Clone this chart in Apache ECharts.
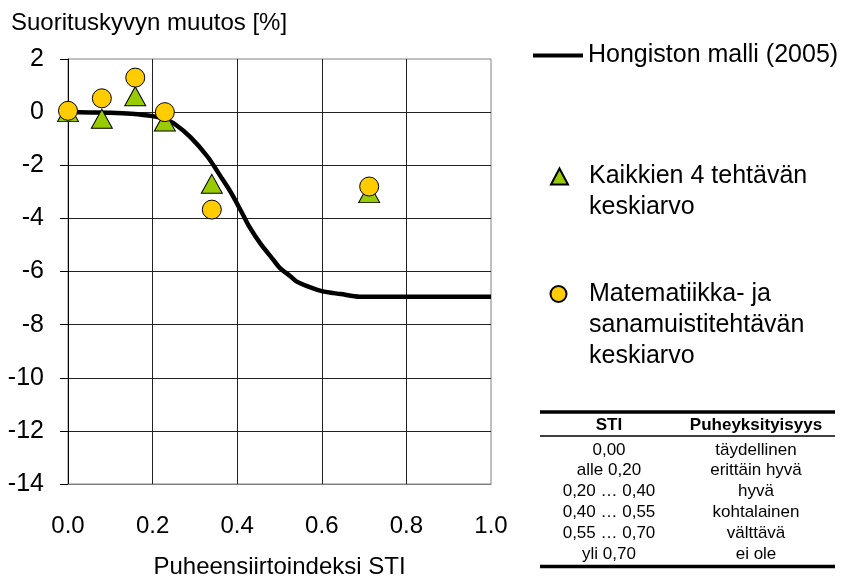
<!DOCTYPE html>
<html><head><meta charset="utf-8">
<script src="https://cdn.jsdelivr.net/npm/echarts@6/dist/echarts.min.js"></script>
<style>html,body{margin:0;padding:0;background:#fff}#c{width:851px;height:576px}</style>
</head><body><div id="c"></div>
<script>
// ---- data ----
const modelSTI = [0, 0.05, 0.1, 0.15, 0.2, 0.23, 0.25, 0.29, 0.33, 0.36, 0.385, 0.41, 0.43, 0.455, 0.485, 0.5, 0.525, 0.54, 0.565, 0.6, 0.645, 0.69, 0.8, 1.0];
const modelChange = [0, -0.01, -0.02, -0.06, -0.15, -0.27, -0.42, -0.95, -1.68, -2.4, -3.02, -3.75, -4.35, -4.95, -5.55, -5.85, -6.17, -6.37, -6.55, -6.74, -6.85, -6.95, -6.95, -6.95];
const measuredSTI = [0.0, 0.08, 0.159, 0.229, 0.34, 0.712];
const allTasksMean = [0.0, -0.25, 0.6, -0.35, -2.7, -3.05];
const mathWordMean = [0.05, 0.52, 1.3, 0.0, -3.67, -2.8];
const seriesNames = ['Hongiston malli (2005)', 'Kaikkien 4 tehtävän\nkeskiarvo', 'Matematiikka- ja\nsanamuistitehtävän\nkeskiarvo'];
const titleText = 'Suorituskyvyn muutos [%]';
const xAxisName = 'Puheensiirtoindeksi STI';
const tableHeader = ['STI', 'Puheyksityisyys'];
const tableSTI = ['0,00', 'alle 0,20', '0,20 … 0,40', '0,40 … 0,55', '0,55 … 0,70', 'yli 0,70'];
const tablePrivacy = ['täydellinen', 'erittäin hyvä', 'hyvä', 'kohtalainen', 'välttävä', 'ei ole'];

const FONT = "'Liberation Sans', Arial, sans-serif";
const chart = echarts.init(document.getElementById('c'), null, {renderer: 'canvas'});

function pairs(xs, ys) { return xs.map((x, i) => [x, ys[i]]); }

// table graphic
const tbl = [];
const c1 = 609, c2 = 756, tl = 540, tr = 835;
tbl.push({type: 'line', shape: {x1: tl, y1: 412, x2: tr, y2: 412}, style: {stroke: '#000', lineWidth: 3.5}});
tbl.push({type: 'line', shape: {x1: tl, y1: 436, x2: tr, y2: 436}, style: {stroke: '#000', lineWidth: 1.5}});
tbl.push({type: 'line', shape: {x1: tl, y1: 566.5, x2: tr, y2: 566.5}, style: {stroke: '#000', lineWidth: 3.5}});
tbl.push({type: 'text', x: c1, y: 425, style: {text: tableHeader[0], font: 'bold 17px ' + FONT, fill: '#000', align: 'center', verticalAlign: 'middle'}});
tbl.push({type: 'text', x: c2, y: 425, style: {text: tableHeader[1], font: 'bold 17px ' + FONT, fill: '#000', align: 'center', verticalAlign: 'middle'}});
tableSTI.forEach((t, i) => {
  const y = 450 + i * 20.8;
  tbl.push({type: 'text', x: c1, y: y, style: {text: t, font: '17px ' + FONT, fill: '#000', align: 'center', verticalAlign: 'middle'}});
  tbl.push({type: 'text', x: c2, y: y, style: {text: tablePrivacy[i], font: '17px ' + FONT, fill: '#000', align: 'center', verticalAlign: 'middle'}});
});

const LH = 31;
const legendText = {fontFamily: FONT, fontSize: 25, color: '#000', lineHeight: LH};
const option = {
  backgroundColor: '#fff',
  animation: false,
  textStyle: {fontFamily: FONT},
  title: {text: titleText, left: 6, top: 6, textStyle: {fontFamily: FONT, fontSize: 24, fontWeight: 'normal', color: '#000'}},
  grid: {left: 68, right: 360, top: 59, bottom: 92, containLabel: false, outerBoundsMode: 'none',
         show: true, borderColor: '#808080', borderWidth: 1, backgroundColor: 'transparent'},
  legend: [
    {data: [{name: seriesNames[0], icon: 'rect'}], left: 533, top: 40, padding: 0, itemWidth: 50, itemHeight: 4,
     textStyle: legendText, selectedMode: false},
    {data: [{name: seriesNames[1], icon: 'triangle'}], left: 550, top: 130, padding: 0, itemWidth: 17, itemHeight: 16, itemGap: 0,
     formatter: n => '\n' + n,
     textStyle: Object.assign({}, legendText, {padding: [0, 0, 0, 16]}), selectedMode: false},
    {data: [{name: seriesNames[2], icon: 'circle'}], left: 549.5, top: 216.5, padding: 0, itemWidth: 16, itemHeight: 16,
     formatter: n => '\n\n' + n,
     textStyle: Object.assign({}, legendText, {padding: [0, 0, 0, 17.5]}), selectedMode: false}
  ],
  xAxis: {
    type: 'value', min: 0, max: 1, interval: 0.2,
    name: xAxisName, nameLocation: 'middle', nameGap: 71,
    nameTextStyle: {fontFamily: FONT, fontSize: 24, color: '#000'},
    axisLine: {show: true, onZero: false, lineStyle: {color: '#808080', width: 1}},
    axisTick: {show: false},
    axisLabel: {margin: 30, fontFamily: FONT, fontSize: 24, color: '#000', formatter: v => v.toFixed(1)},
    splitLine: {show: true, showMaxLine: false, lineStyle: {color: '#222', width: 1}}
  },
  yAxis: {
    type: 'value', min: -14, max: 2, interval: 2,
    axisLine: {show: true, onZero: false, lineStyle: {color: '#000', width: 1}},
    axisTick: {show: true, inside: false, length: 8, lineStyle: {color: '#000'}},
    axisLabel: {margin: 24, fontFamily: FONT, fontSize: 25, color: '#000'},
    splitLine: {show: true, showMaxLine: false, lineStyle: {color: '#222', width: 1}}
  },
  series: [
    {name: seriesNames[0], type: 'line', data: pairs(modelSTI, modelChange), smooth: 0.3, symbol: 'none',
     lineStyle: {color: '#000', width: 4.5}, itemStyle: {color: '#000'}, z: 2},
    {name: seriesNames[1], type: 'scatter', data: pairs(measuredSTI, allTasksMean), symbol: 'triangle', symbolSize: [21, 19],
     itemStyle: {color: '#99CC00', borderColor: '#000', borderWidth: 1, opacity: 1}, z: 3},
    {name: seriesNames[2], type: 'scatter', data: pairs(measuredSTI, mathWordMean), symbol: 'circle', symbolSize: 19,
     itemStyle: {color: '#FFCC00', borderColor: '#000', borderWidth: 1, opacity: 1}, z: 4}
  ],
  graphic: tbl
};
chart.setOption(option);
</script>
</body></html>
